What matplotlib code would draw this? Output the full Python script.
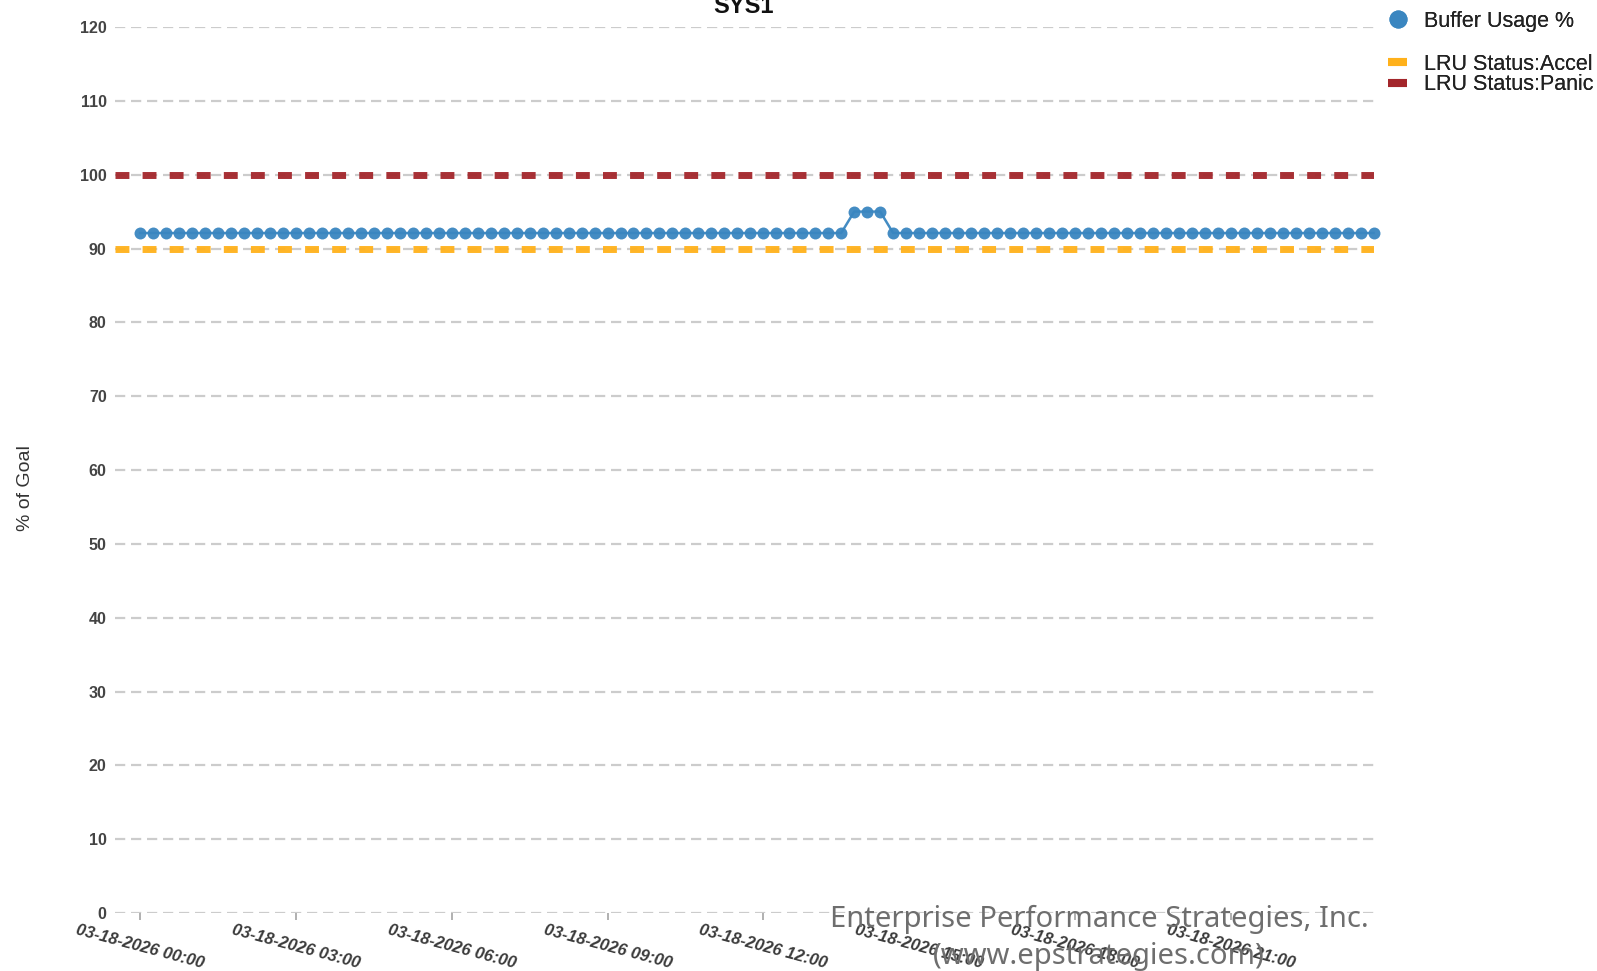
import numpy as np
import pandas as pd
import matplotlib
matplotlib.use("Agg")
import matplotlib.pyplot as plt
import matplotlib.dates as mdates
from matplotlib.lines import Line2D

plt.rcParams['font.family'] = ['Liberation Sans', 'DejaVu Sans']

# data
times = pd.date_range("2026-03-18 00:00", periods=96, freq="15min")
buffer_usage = [92.1] * 55 + [95.0, 95.0, 95.0] + [92.1] * 38
lru_accel = 90
lru_panic = 100
title = "SYS1"
y_ticks = list(range(0, 121, 10))
x_ticks = pd.date_range("2026-03-18 00:00", periods=8, freq="3h")

BLUE = "#3a86c0"
ORANGE = "#ffb11b"
RED = "#a3262b"
GRID = "#cccccc"

fig = plt.figure(figsize=(15.97, 9.71), dpi=100)
ax = fig.add_axes([115 / 1597, 58 / 971, (1374 - 115) / 1597, (913 - 27) / 971])

ax.set_ylim(0, 120)
ax.set_xlim(times[0] - pd.Timedelta(minutes=29), times[-1] + pd.Timedelta(seconds=30))

ax.set_yticks(y_ticks)
ax.yaxis.grid(True, color=GRID, linewidth=1.6, linestyle=(0, (4.6, 2.6)), zorder=0)
ax.set_axisbelow(True)
for s in ax.spines.values():
    s.set_visible(False)

ax.axhline(lru_panic, color=RED, linewidth=5, linestyle=(0, (2.0, 1.9)),
           solid_capstyle="butt", dash_capstyle="butt", alpha=0.95, zorder=2)
ax.axhline(lru_accel, color=ORANGE, linewidth=5, linestyle=(0, (2.0, 1.9)),
           solid_capstyle="butt", dash_capstyle="butt", alpha=0.95, zorder=2)

ax.plot(times, buffer_usage, color=BLUE, linewidth=1.8, marker="o", markersize=8.6,
        markeredgewidth=0, alpha=0.95, clip_on=False, zorder=3)

ax.set_xticks(x_ticks)
ax.xaxis.set_major_formatter(mdates.DateFormatter("%m-%d-%Y %H:%M"))
ax.tick_params(axis="x", length=5, width=1.3, color="#aaaaaa", pad=2)
ax.tick_params(axis="y", length=0, pad=6)
for lbl in ax.get_xticklabels():
    lbl.set_rotation(-15)
    lbl.set_ha("center")
    lbl.set_va("top")
    lbl.set_fontsize(12)
    lbl.set_fontweight("bold")
    lbl.set_fontstyle("italic")
    lbl.set_color("#3a3a3a")
for lbl in ax.get_yticklabels():
    lbl.set_fontsize(11.5)
    lbl.set_fontweight("bold")
    lbl.set_color("#444444")

fig.text(25 / 1597, 1 - 488 / 971, "% of Goal", rotation=90, ha="center", va="center",
         fontsize=14, color="#333333")
fig.text(744 / 1597, 1 - 13 / 971, title, ha="center", va="baseline",
         fontsize=17, fontweight="bold", color="#111111")

# legends
entries = [
    (Line2D([], [], color=BLUE, marker="o", markersize=13, linestyle="none", markeredgewidth=0),
     "Buffer Usage %", 21),
    (Line2D([], [], color=ORANGE, linewidth=5.8, solid_capstyle="butt"), "LRU Status:Accel", 64),
    (Line2D([], [], color=RED, linewidth=5.8, solid_capstyle="butt"), "LRU Status:Panic", 85),
]
for handle, label, ypx in entries:
    leg = fig.legend([handle], [label], loc="center left",
                     bbox_to_anchor=(1388 / 1597, 1 - ypx / 971),
                     bbox_transform=fig.transFigure, frameon=False,
                     borderpad=0, borderaxespad=0, handlelength=0.9,
                     handletextpad=0.75, prop={"size": 15.5})
    for t in leg.get_texts():
        t.set_color("#222222")
    fig.add_artist(leg)

# watermark
fig.text(1099 / 1597, 1 - 927 / 971, "Enterprise Performance Strategies, Inc.",
         ha="center", va="baseline", fontsize=21, color="#6e6e6e", family="Noto Sans", zorder=10)
fig.text(1099 / 1597, 1 - 964 / 971, "(www.epstrategies.com)",
         ha="center", va="baseline", fontsize=21, color="#6e6e6e", family="Noto Sans", zorder=10)

fig.savefig("out.png", dpi=100)
